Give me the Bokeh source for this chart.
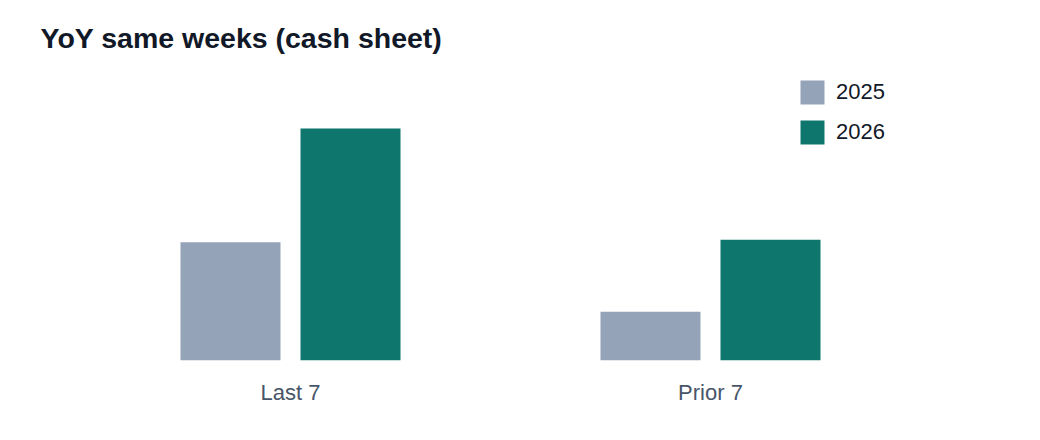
from bokeh.plotting import figure
from bokeh.models import ColumnDataSource, FactorRange, Range1d, Legend, LegendItem
from bokeh.transform import dodge
from bokeh.embed import file_html
from bokeh.resources import INLINE

categories = ["Last 7", "Prior 7"]
years = ["2025", "2026"]
values_2025 = [5.1, 2.1]
values_2026 = [10.0, 5.2]

colors = {"2025": "#94a3b8", "2026": "#0f766e"}


def make_plot():
    """
    Grouped bars, one pair per window
    """
    source = ColumnDataSource(data=dict(cat=categories, y2025=values_2025, y2026=values_2026))

    p = figure(width=1024, height=424, x_range=FactorRange(*categories, range_padding=0),
               y_range=Range1d(0, 12.5), output_backend="svg", toolbar_location=None,
               y_axis_location=None, min_border_left=80, min_border_right=104,
               min_border_top=70, min_border_bottom=64, title="YoY same weeks (cash sheet)")

    p.title.text_font = "Liberation Sans"
    p.title.text_font_size = "28.5px"
    p.title.text_font_style = "bold"
    p.title.text_color = "#111827"
    p.title.offset = -40
    p.title.standoff = 33

    bar_w = 100 / 420
    r1 = p.vbar(x=dodge("cat", -60 / 420, range=p.x_range), top="y2025", width=bar_w,
                source=source, color=colors["2025"], line_color=None)
    r2 = p.vbar(x=dodge("cat", 60 / 420, range=p.x_range), top="y2026", width=bar_w,
                source=source, color=colors["2026"], line_color=None)

    # legend glyphs are inset by 10%, so 30px boxes draw as 24px squares
    legend = Legend(items=[LegendItem(label=years[0], renderers=[r1]),
                           LegendItem(label=years[1], renderers=[r2])],
                    location=(717, 213), orientation="vertical")
    legend.padding = 0
    legend.margin = 0
    legend.spacing = 10
    legend.glyph_width = 30
    legend.glyph_height = 30
    legend.label_height = 30
    legend.label_standoff = 9
    legend.label_text_font = "Liberation Sans"
    legend.label_text_font_size = "22px"
    legend.label_text_color = "#111827"
    legend.border_line_color = None
    legend.background_fill_alpha = 0
    p.add_layout(legend, "center")

    ax = p.xaxis[0]
    ax.axis_line_color = None
    ax.major_tick_line_color = None
    ax.minor_tick_line_color = None
    ax.major_label_text_font = "Liberation Sans"
    ax.major_label_text_font_size = "22px"
    ax.major_label_text_color = "#475569"
    ax.major_label_standoff = 13

    p.xgrid.visible = False
    p.ygrid.visible = False
    p.outline_line_color = None
    return p


if __name__ == "__main__":
    p = make_plot()
    open("out.html", "w").write(file_html(p, INLINE))
